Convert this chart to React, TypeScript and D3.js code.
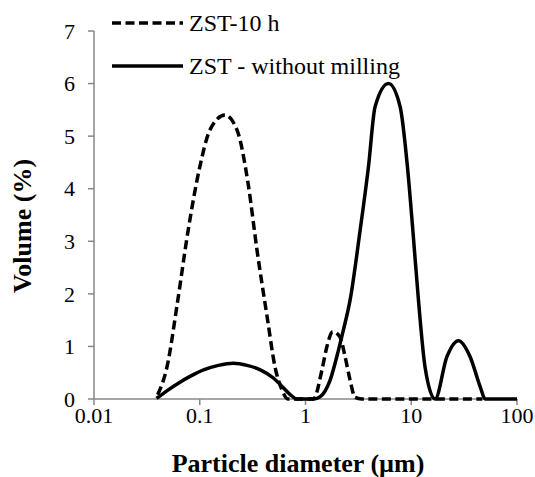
import React from "react";
import * as d3 from "d3";

const xTicks = [0.01, 0.1, 1, 10, 100];
const xTickLabels = ["0.01", "0.1", "1", "10", "100"];
const yTicks = [0, 1, 2, 3, 4, 5, 6, 7];

const seriesNames = ["ZST-10 h", "ZST - without milling"];

// ZST-10 h (dashed)
const milledX = [0.040, 0.049, 0.062, 0.077, 0.10, 0.125, 0.173, 0.225, 0.286, 0.348, 0.434, 0.515, 0.60, 0.68, 0.8, 1.0, 1.19, 1.43, 1.59, 1.81, 2.12, 2.37, 2.64, 2.94, 3.4, 5, 10, 20, 47];
const milledY = [0.08, 0.61, 1.88, 3.16, 4.41, 5.12, 5.40, 5.12, 4.11, 2.83, 1.56, 0.61, 0.17, 0.0, 0, 0, 0, 0.55, 0.99, 1.28, 1.18, 0.80, 0.36, 0.03, 0, 0, 0, 0, 0];

// ZST - without milling (solid)
const rawX = [0.039, 0.05, 0.065, 0.081, 0.11, 0.15, 0.208, 0.28, 0.37, 0.497, 0.6, 0.72, 0.83, 1.0, 1.2, 1.37, 1.71, 2.05, 2.28, 2.64, 3.28, 3.94, 4.55, 6.09, 7.85, 9.2, 10.4, 11.7, 13.5, 16.8, 21.7, 28, 36.1, 44.9, 50, 70, 100];
const rawY = [0.01, 0.17, 0.32, 0.43, 0.56, 0.64, 0.68, 0.64, 0.56, 0.40, 0.24, 0.08, 0.0, 0, 0, 0.04, 0.36, 0.93, 1.31, 1.88, 3.2, 4.42, 5.56, 6.0, 5.56, 4.42, 3.16, 1.88, 0.61, 0.0, 0.8, 1.11, 0.8, 0.23, 0, 0, 0];

const W = 535;
const H = 477;
const FONT = "Liberation Serif";
const AXIS = "#878787";

export default function App() {
  const x = d3.scaleLog().domain([0.01, 100]).range([94, 517]);
  const y = d3.scaleLinear().domain([0, 7]).range([399, 31]);
  const line = d3
    .line<[number, number]>()
    .x((d) => x(d[0]))
    .y((d) => y(d[1]))
    .curve(d3.curveMonotoneX);

  const milled = milledX.map((v, i) => [v, milledY[i]] as [number, number]);
  const raw = rawX.map((v, i) => [v, rawY[i]] as [number, number]);
  const ts = { fontFamily: FONT };

  return (
    <svg
      width={W}
      height={H}
      style={{ position: "absolute", left: 0, top: 0, background: "#fff", fontFamily: FONT }}
    >
      {/* axes */}
      <line x1={x(0.01)} x2={x(100)} y1={y(0)} y2={y(0)} stroke={AXIS} strokeWidth={1.5} />
      <line x1={x(0.01)} x2={x(0.01)} y1={y(0)} y2={y(7)} stroke={AXIS} strokeWidth={1.5} />
      {xTicks.map((t, i) => (
        <g key={"xt" + i}>
          <line x1={x(t)} x2={x(t)} y1={y(0)} y2={y(0) + 6} stroke={AXIS} strokeWidth={1.5} />
          <text x={x(t)} y={y(0) + 24} textAnchor="middle" fontSize={22} fill="#000" style={ts}>
            {xTickLabels[i]}
          </text>
        </g>
      ))}
      {yTicks.map((t) => (
        <g key={"yt" + t}>
          <line x1={x(0.01) - 6} x2={x(0.01)} y1={y(t)} y2={y(t)} stroke={AXIS} strokeWidth={1.5} />
          <text x={75} y={y(t)} dy="0.35em" textAnchor="end" fontSize={22} fill="#000" style={ts}>
            {t}
          </text>
        </g>
      ))}

      {/* series */}
      <path d={line(raw) || ""} fill="none" stroke="#000" strokeWidth={3.5} />
      <path d={line(milled) || ""} fill="none" stroke="#000" strokeWidth={3.5} strokeDasharray="9 4.5" />

      {/* legend */}
      <line x1={112} x2={183} y1={23} y2={23} stroke="#000" strokeWidth={3.5} strokeDasharray="9 4.5" />
      <text x={189} y={23} dy="0.35em" fontSize={24} fill="#000" style={ts}>{seriesNames[0]}</text>
      <line x1={112} x2={183} y1={66} y2={66} stroke="#000" strokeWidth={3.5} />
      <text x={189} y={66} dy="0.35em" fontSize={24} fill="#000" style={ts}>{seriesNames[1]}</text>

      {/* axis titles */}
      <text x={298} y={472} textAnchor="middle" fontSize={26} fontWeight="bold" fill="#000" style={ts}>
        Particle diameter (µm)
      </text>
      <text
        transform={`translate(31, 226) rotate(-90)`}
        textAnchor="middle"
        fontSize={26}
        fontWeight="bold"
        fill="#000"
        style={ts}
      >
        Volume (%)
      </text>
    </svg>
  );
}
